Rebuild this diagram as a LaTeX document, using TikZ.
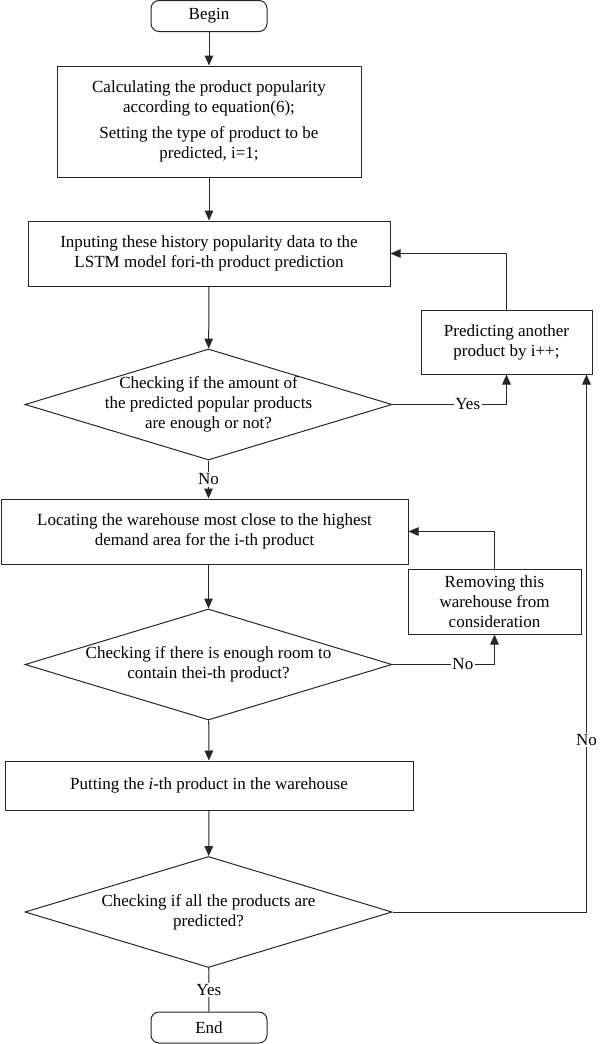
\documentclass[tikz,border=0pt]{standalone}
\usepackage{fontspec}
\setmainfont{Liberation Serif}
\usetikzlibrary{shapes.geometric,arrows.meta,calc}
\tikzset {>={Triangle[length=10pt,width=8.5pt]}}
\tikzset{
  box/.style={draw=black!85, line width=1pt, rectangle, align=center, inner sep=2pt},
  term/.style={box, rounded corners=8pt},
  decision/.style={draw=black!85, line width=1pt, diamond, inner sep=0pt},
  txt/.style={align=center, inner sep=0pt},
  lbl/.style={fill=white, inner sep=1.5pt},
  line/.style={draw=black!85, line width=1pt, ->},
}

\begin{document}
\begin{tikzpicture}[x=1pt,y=-1pt,font=\fontsize{17}{20}\selectfont]
\useasboundingbox (0,0) rectangle (600,1044);

% Place main column
\node[term, minimum width=116pt, minimum height=31pt] (begin) at (209,16) {Begin};
\node[box, minimum width=304pt, minimum height=111pt] (calc) at (209,121.5)
  {Calculating the product popularity\\according to equation(6);\\[6pt]Setting the type of product to be\\predicted, i=1;};
\node[box, minimum width=362pt, minimum height=65pt] (lstm) at (209,253.5)
  {Inputing these history popularity data to the\\LSTM model fori-th product prediction};
\node[decision, minimum width=367pt, minimum height=111pt] (enough) at (208.5,404.5) {};
\node[txt] (enough-t) at (enough) {Checking if the amount of\\the predicted popular products\\are enough or not?};
\node[box, minimum width=407pt, minimum height=65pt] (locate) at (204.5,531.5)
  {Locating the warehouse most close to the highest\\demand area for the i-th product};
\node[decision, minimum width=367pt, minimum height=111pt] (room) at (208.5,664.5) {};
\node[txt] (room-t) at (room) {Checking if there is enough room to\\contain thei-th product?};
\node[box, minimum width=408pt, minimum height=49pt] (put) at (209,785.5)
  {Putting the \textit{i}-th product in the warehouse};
\node[decision, minimum width=367pt, minimum height=111pt] (all) at (208.5,912) {};
\node[txt] (all-t) at (all) {Checking if all the products are\\predicted?};
\node[term, minimum width=116pt, minimum height=31pt] (end) at (209,1027.5) {End};

% Place side boxes
\node[box, minimum width=171pt, minimum height=64pt] (pred) at (506.5,342)
  {Predicting another\\product by i++;};
\node[box, minimum width=173pt, minimum height=65pt] (remove) at (494.5,601.5)
  {Removing this\\warehouse from\\consideration};
\coordinate (pred-in) at ($(pred.south east)+(-6,0)$);

% Draw main flow
\draw[line] (begin) -- (calc);
\draw[line] (calc) -- (lstm);
\draw[line] (lstm) -- (enough);
\draw[line] (enough) -- node[lbl] {No} (enough |- locate.north);
\draw[line] (room.north |- locate.south) -- (room);
\draw[line] (room) -- (put);
\draw[line] (put) -- (all);
\draw[line,-] (all) -- node[lbl] {Yes} (end);

% Draw loops back
\draw[line] (enough.east) -| node[lbl,pos=0.33] {Yes} (pred.south);
\draw[line] (pred.north) |- (lstm.east);
\draw[line] (room.east) -| node[lbl,pos=0.345] {No} (remove.south);
\draw[line] (remove.north) |- (locate.east);
\draw[line] (all.east) -| node[lbl,pos=0.66] {No} (pred-in);
\end{tikzpicture}
\end{document}
